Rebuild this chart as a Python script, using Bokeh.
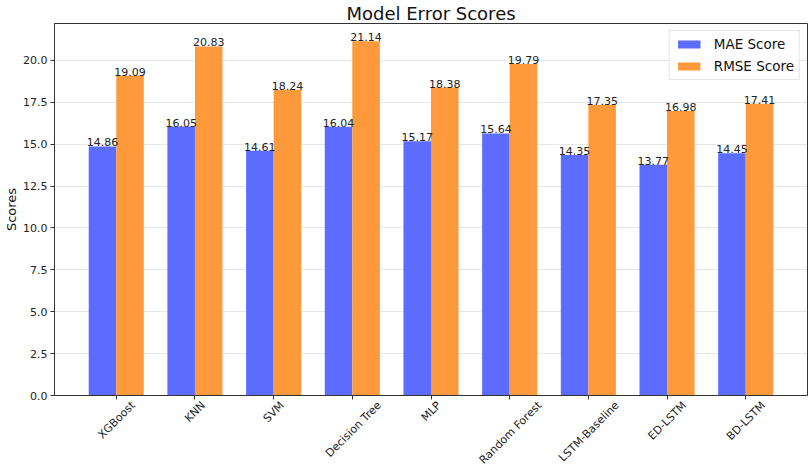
import math
from bokeh.plotting import figure
from bokeh.models import (FixedTicker, PrintfTickFormatter, Range1d, ColumnDataSource,
                          LinearAxis, CustomJSTickFormatter)
from bokeh.core.properties import value
from bokeh.embed import file_html
from bokeh.resources import INLINE

models = ["XGBoost", "KNN", "SVM", "Decision Tree", "MLP", "Random Forest",
          "LSTM-Baseline", "ED-LSTM", "BD-LSTM"]
mae = [14.86, 16.05, 14.61, 16.04, 15.17, 15.64, 14.35, 13.77, 14.45]
rmse = [19.09, 20.83, 18.24, 21.14, 18.38, 19.79, 17.35, 16.98, 17.41]
y_ticks = [0.0, 2.5, 5.0, 7.5, 10.0, 12.5, 15.0, 17.5, 20.0]

FONT = "DejaVu Sans"
BLUE = "#5b6cff"
ORANGE = "#ff9a3c"
BW = 0.35
X0, X1 = -0.785, 8.785

W_FIG, H_FIG = 809, 474
LEFT, RIGHT = 54, 2

p = figure(width=W_FIG, height=H_FIG, output_backend="svg", toolbar_location=None,
           x_range=Range1d(X0, X1), y_range=Range1d(0, 22.2),
           min_border_left=LEFT, min_border_right=RIGHT, min_border_bottom=77,
           min_border_top=0)

p.title.text = "Model Error Scores"
p.title.align = "center"
p.title.text_font = FONT
p.title.text_font_size = "18px"
p.title.text_font_style = "normal"
p.title.text_color = "#111111"
p.title.standoff = 0

idx = list(range(len(models)))
src = ColumnDataSource(dict(
    xm=[i - BW / 2 for i in idx], xr=[i + BW / 2 for i in idx],
    mae=mae, rmse=rmse,
    mae_t=["%.2f" % v for v in mae], rmse_t=["%.2f" % v for v in rmse]))

p.vbar(x="xm", top="mae", width=BW, bottom=0, source=src, fill_color=BLUE,
       line_color=None, legend_label="MAE Score")
p.vbar(x="xr", top="rmse", width=BW, bottom=0, source=src, fill_color=ORANGE,
       line_color=None, legend_label="RMSE Score")

for xcol, tcol, ycol in (("xm", "mae_t", "mae"), ("xr", "rmse_t", "rmse")):
    p.text(x=xcol, y=ycol, text=tcol, source=src, text_align="center",
           text_baseline="bottom", text_font=value(FONT), text_font_size="11px",
           text_color="#222222")

# y axis
p.yaxis.ticker = FixedTicker(ticks=y_ticks)
p.yaxis.formatter = PrintfTickFormatter(format="%.1f")
p.yaxis.axis_label = "Scores"
p.yaxis.axis_label_text_font = FONT
p.yaxis.axis_label_text_font_size = "13px"
p.yaxis.axis_label_text_font_style = "normal"
p.yaxis.axis_label_text_color = "#111111"
p.yaxis.axis_label_standoff = 1

# x axis: tick marks only
p.xaxis.ticker = FixedTicker(ticks=idx)
p.xaxis.major_label_overrides = {i: "" for i in idx}
for ax in (p.xaxis, p.yaxis):
    ax.major_label_text_font = FONT
    ax.major_label_text_font_size = "11px"
    ax.major_label_text_color = "#222222"
    ax.major_label_standoff = 3
    ax.major_tick_in = 0
    ax.major_tick_out = 4
    ax.minor_tick_in = 0
    ax.minor_tick_out = 0
    ax.axis_line_color = "#333333"
    ax.major_tick_line_color = "#333333"
p.yaxis.major_label_standoff = 3
p.xaxis.major_label_standoff = 0
p.xaxis.major_label_text_font_size = "1px"

# second x axis carrying the rotated names, shifted so that each rotated
# label's box is centred under its tick (matplotlib-like placement)
CW = {"A": 684, "B": 686, "C": 698, "D": 770, "E": 632, "F": 575, "G": 775, "H": 752,
      "K": 656, "L": 557, "M": 863, "N": 748, "P": 603, "R": 695, "S": 635, "T": 611,
      "V": 684, "X": 685, "a": 613, "b": 635, "c": 550, "d": 635, "e": 615, "f": 352,
      "i": 278, "l": 278, "m": 974, "n": 634, "o": 612, "r": 411, "s": 521, "t": 392,
      " ": 318, "-": 361}
FS = 11.2
px_per_unit = (W_FIG - LEFT - RIGHT) / (X1 - X0)
shift_ticks = []
for i, name in enumerate(models):
    w = sum(CW.get(c, 600) for c in name) / 1000.0 * FS
    shift_ticks.append(i + (w / (2 * math.sqrt(2))) / px_per_unit)

ax2 = LinearAxis(ticker=FixedTicker(ticks=shift_ticks),
                 formatter=CustomJSTickFormatter(args=dict(names=models),
                                                 code="return names[Math.round(tick)]"))
ax2.major_label_orientation = math.pi / 4
ax2.major_label_text_font = FONT
ax2.major_label_text_font_size = "11px"
ax2.major_label_text_color = "#222222"
ax2.major_label_standoff = 4
ax2.major_tick_in = 0
ax2.major_tick_out = 0
ax2.minor_tick_in = 0
ax2.minor_tick_out = 0
ax2.axis_line_color = None
ax2.major_tick_line_color = None
p.add_layout(ax2, "below")

p.outline_line_color = "#333333"
p.outline_line_width = 1
p.xgrid.grid_line_color = None
p.ygrid.grid_line_color = "#b0b0b0"
p.ygrid.grid_line_alpha = 0.3
p.ygrid.ticker = FixedTicker(ticks=y_ticks)

lg = p.legend[0]
lg.location = "top_right"
lg.margin = 7
lg.padding = 5
lg.spacing = 6
lg.glyph_width = 28
lg.glyph_height = 10
lg.label_height = 14
lg.label_standoff = 11
lg.label_text_font = FONT
lg.label_text_font_size = "13.5px"
lg.label_text_color = "#111111"
lg.border_line_color = "#cccccc"
lg.background_fill_alpha = 0.8

open("out.html", "w").write(file_html(p, INLINE))
